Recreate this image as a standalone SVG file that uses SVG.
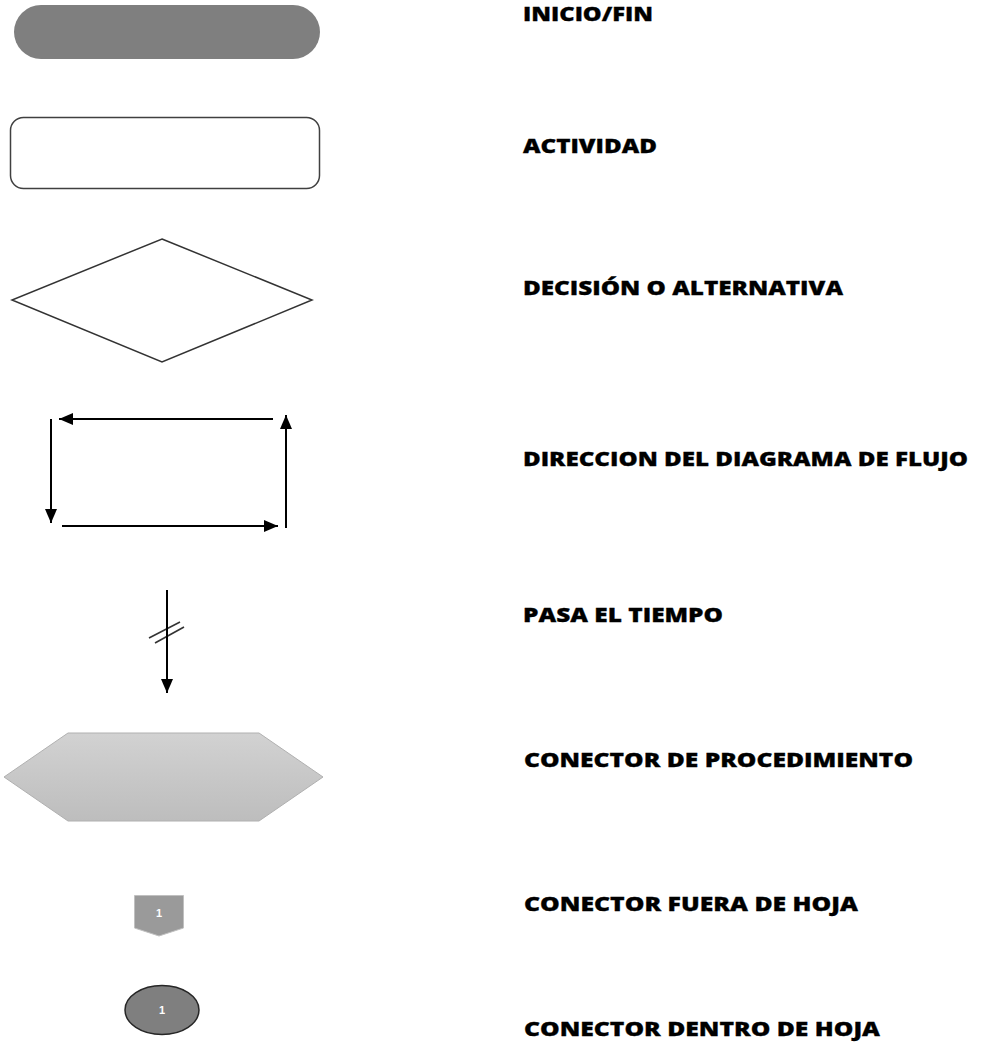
<svg xmlns="http://www.w3.org/2000/svg" width="983" height="1047" viewBox="0 0 983 1047">
<style>
.lbl{font-family:"Open Sans","Liberation Sans",sans-serif;font-weight:800;font-size:20px;fill:#000;stroke:#000;stroke-width:0.3}
.ln{stroke:#000;stroke-width:2;fill:none}
.num{font-family:"Liberation Sans",sans-serif;font-weight:bold;font-size:11px;fill:#fff;text-anchor:middle}
</style>
<defs>
<marker id="ah" markerUnits="userSpaceOnUse" markerWidth="14" markerHeight="12" refX="14" refY="6" orient="auto">
<path d="M0,0 L14,6 L0,12 Z" fill="#000"/>
</marker>
<linearGradient id="hexg" x1="0" y1="0" x2="0" y2="1">
<stop offset="0" stop-color="#d2d2d2"/>
<stop offset="1" stop-color="#bdbdbd"/>
</linearGradient>
</defs>
<rect width="983" height="1047" fill="#fff"/>
<g id="inicio-fin">
<rect x="14" y="5" width="306" height="54" rx="27" ry="27" fill="#7f7f7f"/>
<text class="lbl" x="523" y="21" textLength="130" lengthAdjust="spacingAndGlyphs">INICIO/FIN</text>
</g>
<g id="actividad">
<rect x="10.5" y="117.5" width="309" height="71" rx="13" ry="13" fill="#fff" stroke="#404040" stroke-width="1.5"/>
<text class="lbl" x="523" y="153" textLength="134" lengthAdjust="spacingAndGlyphs">ACTIVIDAD</text>
</g>
<g id="decision">
<polygon points="162,239 312,300 162,362 12,300" fill="#fff" stroke="#333" stroke-width="1.5"/>
<text class="lbl" x="523" y="295" textLength="320" lengthAdjust="spacingAndGlyphs">DECISIÓN O ALTERNATIVA</text>
</g>
<g id="direccion">
<text class="lbl" x="523" y="466" textLength="445" lengthAdjust="spacingAndGlyphs">DIRECCION DEL DIAGRAMA DE FLUJO</text>
</g>
<g id="pasa-tiempo">
<line x1="149" y1="638" x2="180" y2="622" stroke="#333" stroke-width="1.5"/>
<line x1="155" y1="643" x2="184" y2="627" stroke="#333" stroke-width="1.5"/>
<text class="lbl" x="523" y="622" textLength="200" lengthAdjust="spacingAndGlyphs">PASA EL TIEMPO</text>
</g>
<g id="conector-procedimiento">
<polygon points="4,777 68,733 259,733 323,777 259,821 68,821" fill="url(#hexg)" stroke="#b0b0b0" stroke-width="1"/>
<text class="lbl" x="524" y="767" textLength="389" lengthAdjust="spacingAndGlyphs">CONECTOR DE PROCEDIMIENTO</text>
</g>
<g id="conector-fuera">
<polygon points="134.5,895.5 183.5,895.5 183.5,928 159,936 134.5,928" fill="#9a9a9a" stroke="#c0c0c0" stroke-width="1"/>
<text class="num" x="159" y="917">1</text>
<text class="lbl" x="524" y="911" textLength="334" lengthAdjust="spacingAndGlyphs">CONECTOR FUERA DE HOJA</text>
</g>
<g id="conector-dentro">
<ellipse cx="162" cy="1010" rx="37" ry="24.5" fill="#7f7f7f" stroke="#262626" stroke-width="1.5"/>
<text class="num" x="162" y="1014">1</text>
<text class="lbl" x="524" y="1036" textLength="356" lengthAdjust="spacingAndGlyphs">CONECTOR DENTRO DE HOJA</text>
</g>
<g id="connectors">
<line class="ln" x1="273" y1="419" x2="59" y2="419" marker-end="url(#ah)"/>
<line class="ln" x1="51" y1="419" x2="51" y2="523" marker-end="url(#ah)"/>
<line class="ln" x1="62" y1="526" x2="278" y2="526" marker-end="url(#ah)"/>
<line class="ln" x1="286" y1="528" x2="286" y2="415" marker-end="url(#ah)"/>
<line class="ln" x1="167" y1="590" x2="167" y2="693" marker-end="url(#ah)"/>
</g>
</svg>
